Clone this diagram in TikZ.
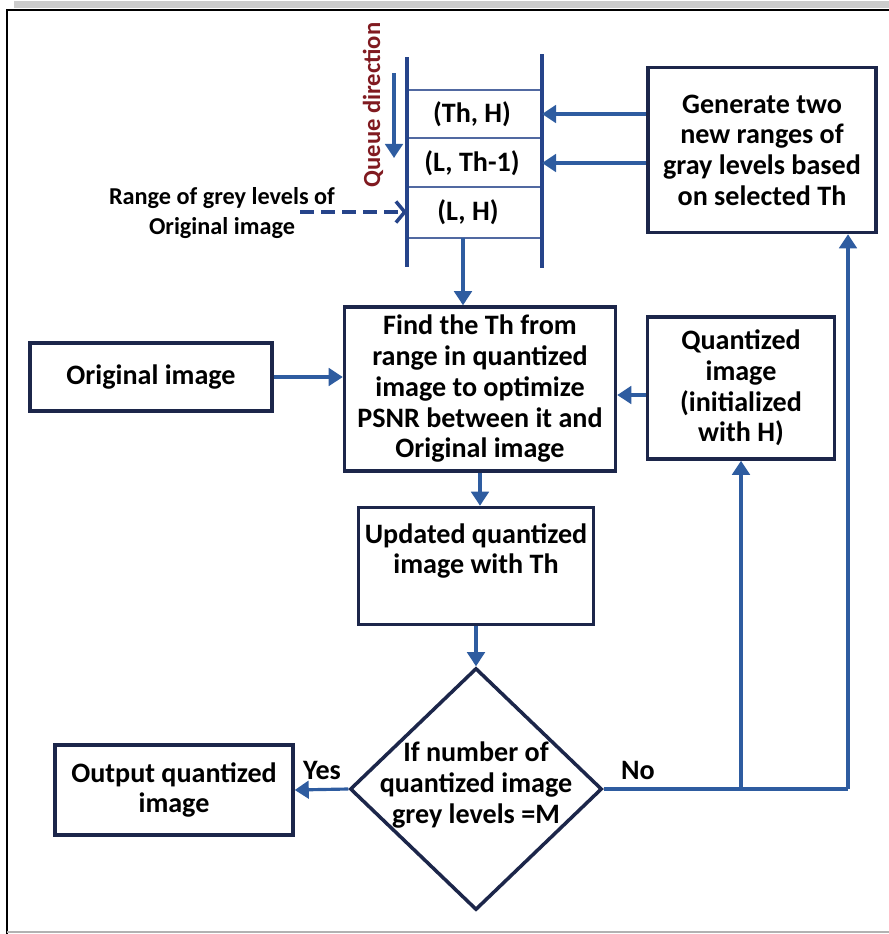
\documentclass[tikz,border=0pt]{standalone}
\usepackage{fontspec}
\setmainfont{Carlito}
\usetikzlibrary{arrows.meta,shapes.geometric,positioning}
\definecolor{navy}{RGB}{28,38,74}
\definecolor{arrblue}{RGB}{46,92,160}
\definecolor{qblue}{RGB}{38,68,138}
\definecolor{dirred}{RGB}{128,26,32}
\tikzset{
  box/.style={draw=navy, line width=2pt, align=center, inner sep=2pt},
  txt/.style={align=center, inner sep=0pt},
  small/.style={font=\bfseries\fontsize{13.8}{17.5}\selectfont},
  flow/.style={draw=arrblue, line width=1.8pt},
  arr/.style={flow, -{Triangle[length=8pt,width=10pt]}},
  dasharr/.style={draw=qblue, line width=2pt, dash pattern=on 8pt off 4pt, -{Straight Barb[length=5pt,width=12pt]}},
  qline/.style={draw=qblue, line width=2.3pt},
  qsep/.style={draw=qblue!80, line width=0.9pt}
}
\begin{document}
\begin{tikzpicture}[x=0.02cm, y=-0.02cm, font=\bfseries\fontsize{16}{17.5}\selectfont]
\useasboundingbox (0,0) rectangle (889,934);
% page frame
\fill[gray!40] (14,1) rectangle (889,8);
\draw[line width=1.5pt] (889,10) -- (7,10) -- (7,934);
\draw[gray!60, line width=1pt] (7,932) -- (889,932);

% queue
\coordinate (qtl) at (407,57);
\coordinate (qbl) at (407,267);
\coordinate (qtr) at (542,54);
\coordinate (qbr) at (542,268);
\draw[qline] (qtl) -- (qbl);
\draw[qline] (qtr) -- (qbr);
\foreach \y in {90,138,187,238}
  \draw[qsep] (409,\y) -- (540,\y);
\node[txt] (thh) at (472,114) {(Th, H)};
\node[txt] (lth) at (472,163) {(L, Th-1)};
\node[txt] (lh) at (468,212) {(L, H)};
\coordinate (qout) at (463,238);

\coordinate (qd1) at (394,73);
\coordinate (qd2) at (394,158);
\draw[arr] (qd1) -- (qd2);
\node[txt, rotate=90, text=dirred, font=\bfseries\fontsize{14}{17}\selectfont] (qdir) at (373,105) {Queue direction};

\node[txt, small] (range) at (222,213) {Range of grey levels of\\Original image};
\coordinate (dstart) at (300,212);
\draw[dasharr] (dstart) -- (lh -| qtl);

% boxes
\node[box, minimum width=4.56cm, minimum height=3.3cm] (gen) at (762,150)
  {Generate two\\new ranges of\\gray levels based\\on selected Th};
\node[box, minimum width=5.42cm, minimum height=3.28cm] (find) at (480,389)
  {Find the Th from\\range in quantized\\image to optimize\\PSNR between it and\\Original image};
\node[box, minimum width=4.84cm, minimum height=1.36cm] (orig) at (151,377) {Original image};
\node[box, minimum width=3.74cm, minimum height=2.84cm] (quant) at (741,388)
  {Quantized\\image\\(initialized\\with H)};
\node[box, minimum width=4.7cm, minimum height=2.34cm] (upd) at (476,566) {};
\node[txt] (updtxt) at (476,551) {Updated quantized\\image with Th};
\node[diamond, draw=navy, line width=2pt, inner sep=0pt,
  minimum width=5.04cm, minimum height=4.84cm] (dec) at (476,789) {};
\node[txt] (dectxt) at (476,785) {If number of\\quantized image\\grey levels =M};
\node[box, minimum width=4.76cm, minimum height=1.8cm] (out) at (174,790)
  {Output quantized\\image};
\node[txt] (yes) at (322,770) {Yes};
\node[txt] (no) at (638,770) {No};

% connectors
\draw[arr] (gen.west |- thh) -- (thh -| qtr);
\draw[arr] (gen.west |- lth) -- (lth -| qtr);
\draw[arr] (qout) -- (qout |- find.north);
\draw[arr] (orig.east) -- (orig.east -| find.west);
\draw[arr] (quant.west |- 0,395) -- (find.east |- 0,395);
\draw[arr] (find.south) -- (find.south |- upd.north);
\draw[arr] (upd.south) -- (dec.north);
\draw[arr] (dec.west) -- (out.east);
\coordinate (corner) at (848,789);
\draw[flow] (dec.east) -- (corner);
\draw[arr] (corner) -- (corner |- gen.south);
\draw[arr] (quant.south |- dec.east) -- (quant.south);
\end{tikzpicture}
\end{document}
